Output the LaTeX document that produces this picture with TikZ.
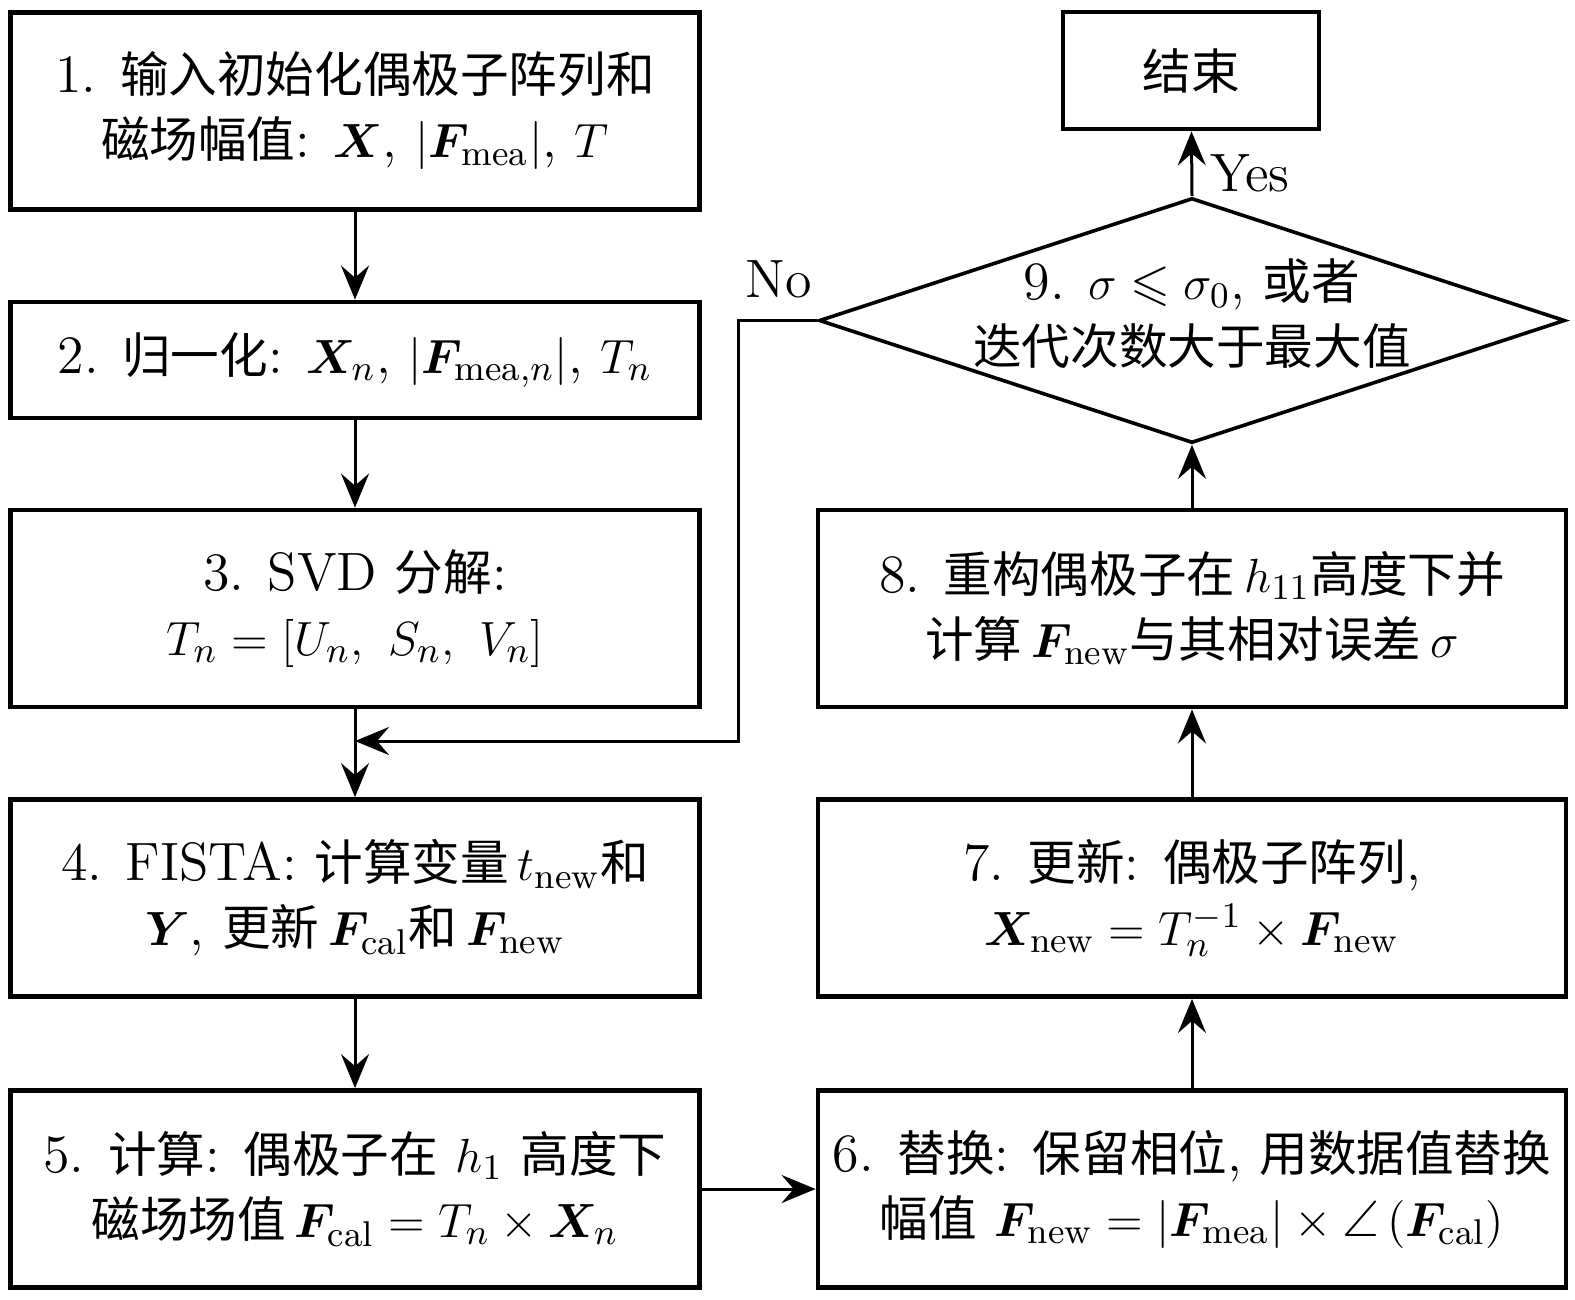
\documentclass[tikz,border=0pt]{standalone}
\usepackage{amsmath,amssymb,bm}
\usepackage{fontspec}
\newfontfamily\cjk[Scale=0.9]{Noto Sans CJK SC}
\usetikzlibrary{arrows.meta,shapes.geometric,calc}
\newcommand{\zh}[1]{{\cjk #1}}
\newcommand{\mth}[1]{{\fontsize{12.8}{16.25}\selectfont$#1$}}
\begin{document}
\begin{tikzpicture}[x=0.25pt,y=-0.25pt,
  font=\fontsize{13.5}{16.25}\selectfont,
  box/.style={draw,line width=1.2pt,inner sep=0pt,align=center},
  lbox/.style={box,minimum width=172.25pt,minimum height=49.25pt},
  sbox/.style={box,minimum width=172.25pt,minimum height=29pt},
  rbox/.style={box,minimum width=187pt,minimum height=49.25pt},
  endbox/.style={box,minimum width=64pt,minimum height=29.25pt},
  decision/.style={draw,diamond,line width=0.9pt,inner sep=0pt,minimum width=186.5pt,minimum height=61.25pt},
  lbl/.style={inner sep=0pt},
  arr/.style={-{Stealth[length=8.5pt,width=7pt,inset=3pt]},line width=0.75pt},
  conn/.style={line width=0.75pt}
]
\useasboundingbox (0,0) rectangle (1575,1299);

% left column
\node[lbox] (b1) at (355,111) {1. \zh{输入初始化偶极子阵列和}\\\zh{磁场幅值}: \mth{\bm{X}}, \mth{\left|\bm{F}_{\mathrm{mea}}\right|}, \mth{T}};
\node[sbox] (b2) at (355,360) {2. \zh{归一化}: \mth{\bm{X}_n}, \mth{\left|\bm{F}_{\mathrm{mea},n}\right|}, \mth{T_n}};
\node[lbox] (b3) at (355,608.5) {3. SVD \zh{分解}:\\\mth{T_n=[U_n,\ S_n,\ V_n]}};
\node[lbox] (b4) at (355,898) {4. FISTA: \zh{计算变量}\,\mth{t_{\mathrm{new}}}\zh{和}\\\mth{\bm{Y}}, \zh{更新}\,\mth{\bm{F}_{\mathrm{cal}}}\zh{和}\,\mth{\bm{F}_{\mathrm{new}}}};
\node[lbox] (b5) at (355,1189) {5. \zh{计算}: \zh{偶极子在} \mth{h_1} \zh{高度下}\\\zh{磁场场值}\,\mth{\bm{F}_{\mathrm{cal}}=T_n\times\bm{X}_n}};

% right column
\node[rbox] (b6) at (1192,1189) {6. \zh{替换}: \zh{保留相位}, \zh{用数据值替换}\\\zh{幅值} \mth{\bm{F}_{\mathrm{new}}=\left|\bm{F}_{\mathrm{mea}}\right|\times\angle\left(\bm{F}_{\mathrm{cal}}\right)}};
\node[rbox] (b7) at (1192,898) {7. \zh{更新}: \zh{偶极子阵列},\\\mth{\bm{X}_{\mathrm{new}}=T_n^{-1}\times\bm{F}_{\mathrm{new}}}};
\node[rbox] (b8) at (1192,608.5) {8. \zh{重构偶极子在}\,\mth{h_{11}}\zh{高度下并}\\\zh{计算}\,\mth{\bm{F}_{\mathrm{new}}}\zh{与其相对误差}\,\mth{\sigma}};
\node[decision] (d) at (1192,320.5) {};
\node[lbl,align=center] (dt) at (1192,314) {9. \mth{\sigma\leqslant\sigma_0}, \zh{或者}\\\zh{迭代次数大于最大值}};
\node[endbox] (e) at (1191,70.5) {\zh{结束}};

% labels
\node[lbl] (yes) at (1250,173) {Yes};
\node[lbl] (no) at (779,279) {No};

% connectors
\draw[arr] (b1) -- (b2);
\draw[arr] (b2) -- (b3);
\draw[arr] (b3) -- (b4);
\draw[arr] (b4) -- (b5);
\draw[arr] (b5) -- (b6);
\draw[arr] (b6) -- (b7);
\draw[arr] (b7) -- (b8);
\draw[arr] (b8) -- (d.south);
\draw[arr] (d.north) -- (e);
\coordinate (n1) at (738,320.5);
\coordinate (n2) at (738,741);
\draw[arr] (d.west) -- (n1) -- (n2) -- (b3.south |- n2);
\end{tikzpicture}
\end{document}
